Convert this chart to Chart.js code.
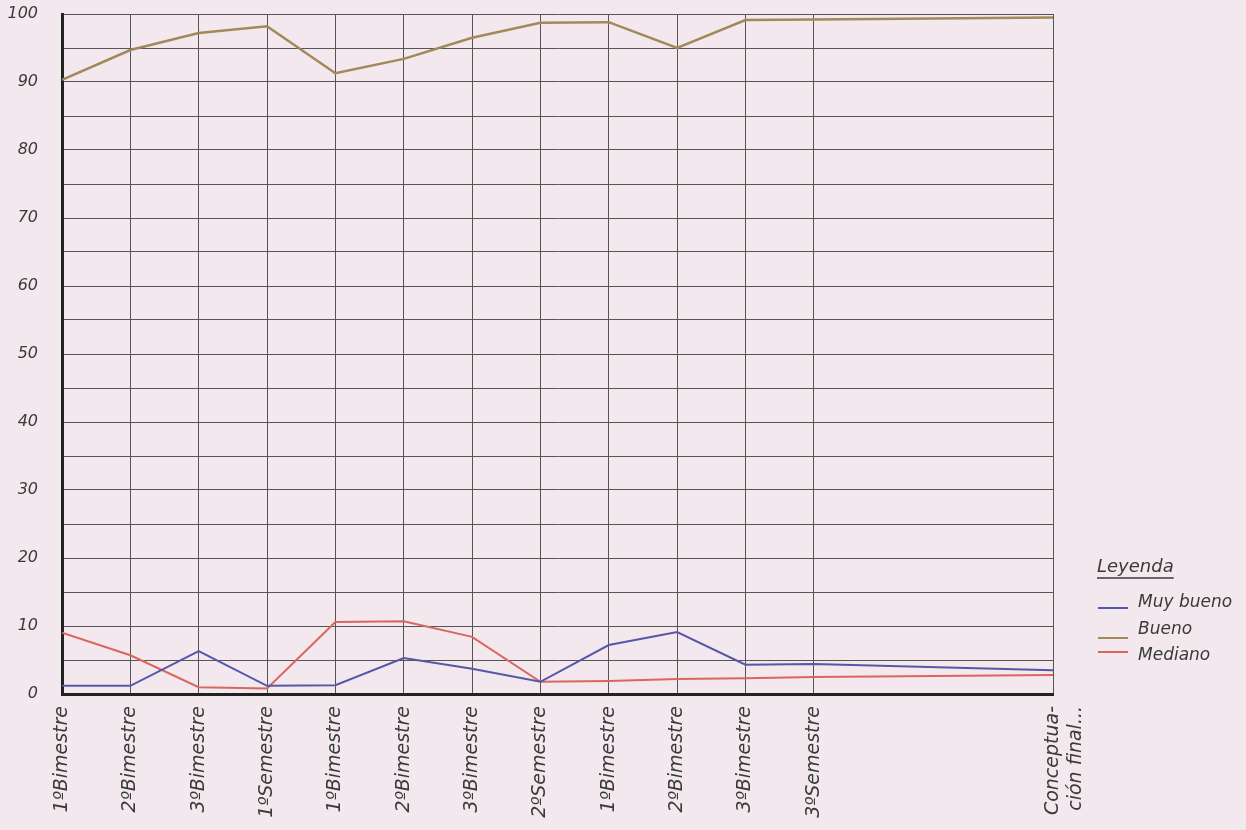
<!DOCTYPE html>
<html>
<head>
<meta charset="utf-8">
<script src="https://cdn.jsdelivr.net/npm/chart.js@4"></script>
<style>
  html, body { margin: 0; padding: 0; background: #f2e8ed; }
  #wrap { width: 1246px; height: 830px; }
</style>
</head>
<body>
<div id="wrap"><canvas id="myChart" width="1246" height="830"></canvas></div>
<script>
// periods along the x axis (last one sits further right, after empty columns)
const periods = ["1ºBimestre", "2ºBimestre", "3ºBimestre", "1ºSemestre", "1ºBimestre", "2ºBimestre",
  "3ºBimestre", "2ºSemestre", "1ºBimestre", "2ºBimestre", "3ºBimestre", "3ºSemestre", ["Conceptua-", "ción final..."]];
const periodPos = [0, 1, 2, 3, 4, 5, 6, 7, 8, 9, 10, 11, 14.5];

const muyBueno = [1.2, 1.2, 6.3, 1.2, 1.3, 5.3, 3.7, 1.8, 7.2, 9.1, 4.3, 4.4, 3.5];
const bueno = [90.3, 94.7, 97.2, 98.2, 91.3, 93.4, 96.5, 98.7, 98.8, 95.0, 99.1, 99.2, 99.5];
const mediano = [9.0, 5.7, 1.0, 0.8, 10.6, 10.7, 8.4, 1.8, 1.9, 2.2, 2.3, 2.5, 2.8];

const yTicks = [0, 10, 20, 30, 40, 50, 60, 70, 80, 90, 100];

const font = "DejaVu Sans";
const ink = "#3a3a3a";

function toPoints(values) {
  return values.map((v, i) => ({ x: periodPos[i], y: v }));
}

// Legend drawn by hand to the right of the grid
const legendPlugin = {
  id: "leyenda",
  afterDraw(chart) {
    const c = chart.ctx;
    c.save();
    c.fillStyle = ink;
    c.font = "italic 18px '" + font + "'";
    c.textBaseline = "middle";
    c.fillText("Leyenda", 1097, 567);
    const w = c.measureText("Leyenda").width;
    c.strokeStyle = ink;
    c.lineWidth = 1.5;
    c.beginPath();
    c.moveTo(1097, 578);
    c.lineTo(1097 + w, 578);
    c.stroke();
    const rows = [
      { ds: 0, textY: 603, lineY: 608 },
      { ds: 1, textY: 630, lineY: 638 },
      { ds: 2, textY: 656, lineY: 652 },
    ];
    c.font = "italic 17px '" + font + "'";
    rows.forEach((r) => {
      const ds = chart.data.datasets[r.ds];
      c.strokeStyle = ds.borderColor;
      c.lineWidth = 2;
      c.beginPath();
      c.moveTo(1098, r.lineY);
      c.lineTo(1128, r.lineY);
      c.stroke();
      c.fillStyle = ink;
      c.fillText(ds.label, 1138, r.textY);
    });
    c.restore();
  },
};

const ctx = document.getElementById("myChart").getContext("2d");
const myChart = new Chart(ctx, {
  type: "line",
  data: {
    datasets: [
      {
        label: "Muy bueno",
        data: toPoints(muyBueno),
        borderColor: "#5557a8",
        borderWidth: 2,
        pointRadius: 0,
        fill: false,
      },
      {
        label: "Bueno",
        data: toPoints(bueno),
        borderColor: "#a2895a",
        borderWidth: 2.5,
        pointRadius: 0,
        fill: false,
      },
      {
        label: "Mediano",
        data: toPoints(mediano),
        borderColor: "#d8675e",
        borderWidth: 2,
        pointRadius: 0,
        fill: false,
      },
    ],
  },
  options: {
    responsive: false,
    animation: false,
    layout: { padding: { top: 14, right: 193, left: 0, bottom: 0 } },
    plugins: {
      legend: { display: false },
      tooltip: { enabled: false },
    },
    scales: {
      x: {
        type: "linear",
        min: 0,
        max: 14.5,
        afterBuildTicks: (scale) => {
          scale.ticks = periodPos.map((v) => ({ value: v }));
        },
        afterFit: (scale) => {
          scale.height = 136;
          scale.paddingLeft = 0;
          scale.paddingRight = 0;
        },
        grid: { color: "#555", lineWidth: 1, drawTicks: false },
        border: { color: "#222", width: 3 },
        ticks: {
          autoSkip: false,
          minRotation: 90,
          maxRotation: 90,
          padding: 12,
          color: ink,
          font: { family: font, size: 19, style: "italic" },
          callback: (value, index) => periods[index],
        },
      },
      y: {
        min: 0,
        max: 100,
        afterFit: (scale) => {
          scale.width = 62;
          scale.paddingTop = 0;
          scale.paddingBottom = 0;
        },
        grid: { color: "#555", lineWidth: 1, drawTicks: false },
        border: { color: "#222", width: 3 },
        ticks: {
          stepSize: 5,
          padding: 24,
          color: ink,
          font: { family: font, size: 16, style: "italic" },
          callback: (value) => (yTicks.includes(value) ? value : ""),
        },
      },
    },
  },
  plugins: [legendPlugin],
});
</script>
</body>
</html>
